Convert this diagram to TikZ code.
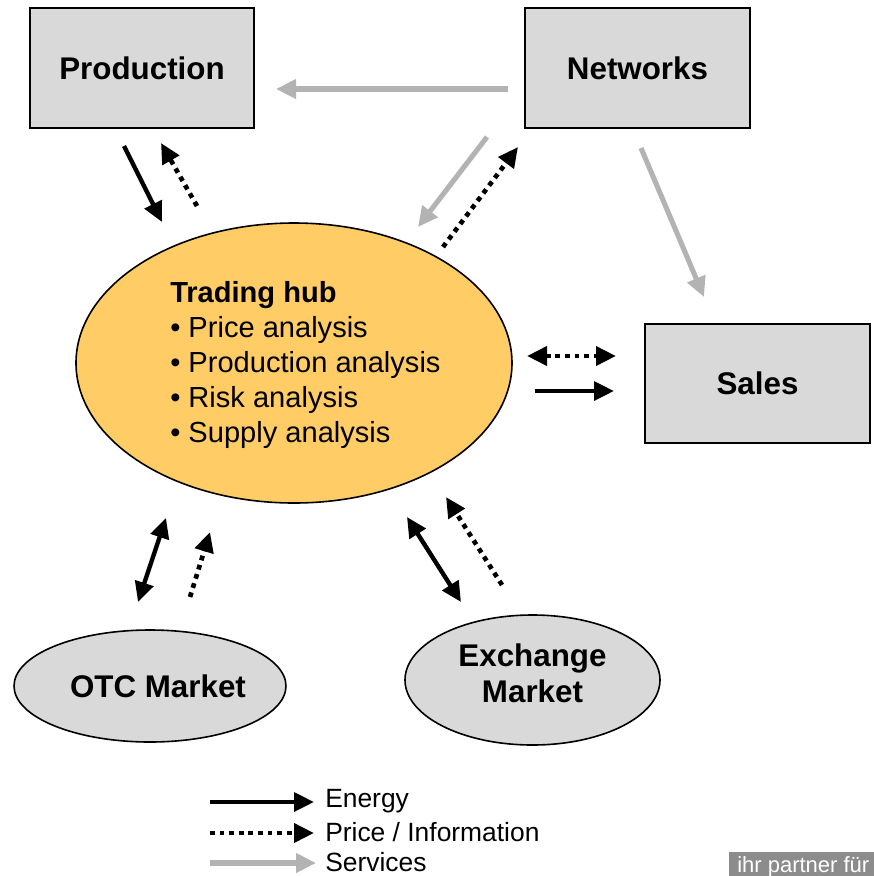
\documentclass[tikz,border=0pt]{standalone}
\usepackage{fontspec}
\setmainfont{Liberation Sans}
\usetikzlibrary{shapes.geometric,arrows.meta}
\definecolor{boxgray}{HTML}{D9D9D9}
\definecolor{hubfill}{HTML}{FFCC66}
\definecolor{svcgray}{HTML}{B3B3B3}
\definecolor{wmgray}{HTML}{8C8C8C}
\tikzset{
  unitbox/.style={draw=black, line width=1.2pt, fill=boxgray, inner sep=0pt,
    font=\bfseries\fontsize{23.5}{28}\selectfont},
  ellnode/.style={ellipse, draw=black, line width=1.2pt, inner sep=0pt},
  tip/.style={-{Triangle[length=15pt,width=14pt]}},
  energy/.style={tip, line width=3.3pt, black},
  energy2/.style={{Triangle[length=15pt,width=14pt]}-{Triangle[length=15pt,width=14pt]}, line width=3.3pt, black},
  info/.style={tip, line width=3.5pt, black, dash pattern=on 3.6pt off 3.6pt},
  info2/.style={{Triangle[length=15pt,width=14pt]}-{Triangle[length=15pt,width=14pt]}, line width=3.5pt, black, dash pattern=on 3.6pt off 3.6pt},
  service/.style={tip, line width=3.8pt, svcgray},
  legtext/.style={anchor=west, inner sep=0pt, font=\fontsize{19.8}{23}\selectfont}
}
\begin{document}
\begin{tikzpicture}[x=0.75pt,y=-0.75pt]
\useasboundingbox (0,0) rectangle (874,876);
\begin{scope}
\clip (0,0) rectangle (874,876);
% boxes
\node[unitbox, minimum width=168pt, minimum height=90pt] (prod) at (142,68) {Production};
\node[unitbox, minimum width=168.75pt, minimum height=90pt] (net) at (637.5,68) {Networks};
\node[unitbox, minimum width=168.75pt, minimum height=89.25pt] (sales) at (757.5,383.5) {Sales};
% ellipses
\node[ellnode, fill=hubfill, minimum width=327pt, minimum height=210pt] (hub) at (294,363) {};
\node[anchor=north west, inner sep=0pt, align=left, font=\fontsize{21.8}{26.25}\selectfont] (hubtext) at (170,281)
  {\textbf{Trading hub}\\• Price analysis\\• Production analysis\\• Risk analysis\\• Supply analysis};
\node[ellnode, fill=boxgray, minimum width=204pt, minimum height=84pt] (otc) at (150,686) {};
\node[font=\bfseries\fontsize{23.5}{27}\selectfont, inner sep=0pt] (otctext) at (158,686) {OTC Market};
\node[ellnode, fill=boxgray, minimum width=191.25pt, minimum height=97.5pt] (exch) at (532.5,680) {};
\node[align=center, inner sep=0pt, font=\bfseries\fontsize{23.5}{27}\selectfont] (exchtext) at (532.5,673) {Exchange\\Market};
% connector endpoints
\coordinate (n2pA) at (508,89);   \coordinate (n2pB) at (276,89);
\coordinate (p2hA) at (124,146);  \coordinate (p2hB) at (162,222);
\coordinate (h2pA) at (197,206);  \coordinate (h2pB) at (161,143);
\coordinate (n2hA) at (487,137);  \coordinate (n2hB) at (418,227);
\coordinate (h2nA) at (443,247);  \coordinate (h2nB) at (518,147);
\coordinate (n2sA) at (641,148);  \coordinate (n2sB) at (704,297);
\coordinate (hsA) at (527,356);   \coordinate (hsB) at (616,356);
\coordinate (hseA) at (535,391);  \coordinate (hseB) at (614,391);
\coordinate (ohA) at (138,602);   \coordinate (ohB) at (166,518);
\coordinate (oiA) at (190,597);   \coordinate (oiB) at (210,532);
\coordinate (ehA) at (461,602);   \coordinate (ehB) at (407,517);
\coordinate (eiA) at (502,585);   \coordinate (eiB) at (446,497);
% connectors
\draw[service] (n2pA) -- (n2pB);
\draw[energy] (p2hA) -- (p2hB);
\draw[info] (h2pA) -- (h2pB);
\draw[service] (n2hA) -- (n2hB);
\draw[info] (h2nA) -- (h2nB);
\draw[service] (n2sA) -- (n2sB);
\draw[info2] (hsA) -- (hsB);
\draw[energy] (hseA) -- (hseB);
\draw[energy2] (ohA) -- (ohB);
\draw[info] (oiA) -- (oiB);
\draw[energy2] (ehA) -- (ehB);
\draw[info] (eiA) -- (eiB);
% legend
\coordinate (l1A) at (210,802); \coordinate (l1B) at (314,802);
\coordinate (l2A) at (210,833); \coordinate (l2B) at (314,833);
\coordinate (l3A) at (210,863); \coordinate (l3B) at (316,863);
\draw[energy] (l1A) -- (l1B);
\draw[info] (l2A) -- (l2B);
\draw[service] (l3A) -- (l3B);
\node[legtext] (lg1) at (325,801) {Energy};
\node[legtext] (lg2) at (325,832) {Price / Information};
\node[legtext] (lg3) at (325,862) {Services};
% watermark
\fill[wmgray] (729,852) rectangle (880,880);
\node[anchor=west, inner sep=0pt, text=white, font=\fontsize{16.5}{18}\selectfont] (wm) at (737,867) {ihr partner für};
\end{scope}
\end{tikzpicture}
\end{document}
